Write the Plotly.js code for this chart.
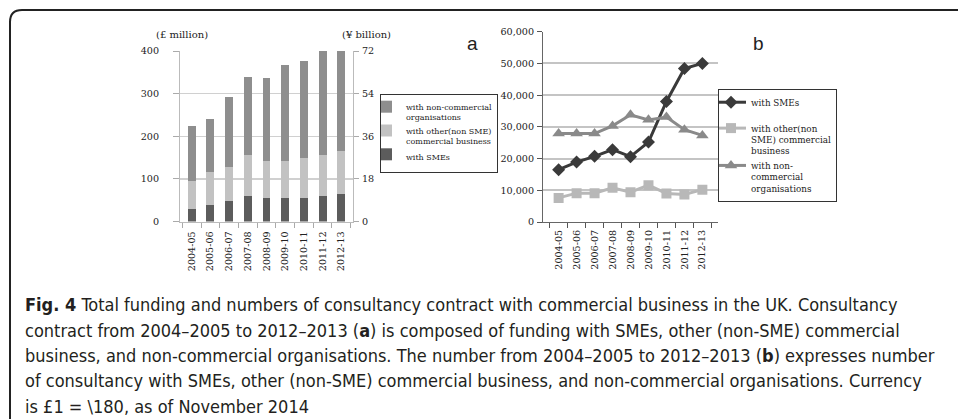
<!DOCTYPE html>
<html>
<head>
<meta charset="utf-8">
<script src="https://cdn.plot.ly/plotly-3.0.1.min.js"></script>
<style>html,body{margin:0;padding:0;background:#fff;}#chart{width:958px;height:419px;}</style>
</head>
<body>
<div id="chart"></div>
<script>
// ---- data ----
const years = ["2004-05","2005-06","2006-07","2007-08","2008-09","2009-10","2010-11","2011-12","2012-13"];
// (a) funding, £ million
const fundSME = [30, 39, 48, 59, 56, 56, 55, 61, 64];
const fundOther = [65, 77, 79, 97, 86, 87, 93, 94, 102];
const fundNonComm = [128, 124, 164, 183, 194, 225, 228, 247, 239];
// (b) number of consultancies
const numSME = [16500, 18900, 20700, 22800, 20600, 25200, 38000, 48400, 50000];
const numOther = [7600, 9100, 9100, 10800, 9400, 11600, 9000, 8700, 10200];
const numNonComm = [27900, 27900, 27900, 30300, 33800, 32200, 33100, 29100, 27300];
const leftTicks = [0, 100, 200, 300, 400];
const rightTicks = [0, 18, 36, 54, 72];
const yenPerPound = 180; // £1 = ¥180  -> £ million * 0.18 = ¥ billion

const W = 958, H = 419;
const px = v => v / W;
const py = v => 1 - v / H;
const serif = "DejaVu Serif, Liberation Serif, serif";
const capFont = "Liberation Sans Narrow, DejaVu Sans Condensed, Open Sans, sans-serif";

const fundTotalYen = years.map((_, i) => (fundSME[i] + fundOther[i] + fundNonComm[i]) * yenPerPound / 1000);

const traces = [
  {type:"bar", name:"with SMEs", x:years, y:fundSME, xaxis:"x", yaxis:"y",
   marker:{color:"#5c5c5c"}, legend:"legend", hoverinfo:"skip"},
  {type:"bar", name:"with other(non SME)<br>commercial business", x:years, y:fundOther, xaxis:"x", yaxis:"y",
   marker:{color:"#c2c2c2"}, legend:"legend", hoverinfo:"skip"},
  {type:"bar", name:"with non-commercial<br>organisations", x:years, y:fundNonComm, xaxis:"x", yaxis:"y",
   marker:{color:"#8e8e8e"}, legend:"legend", hoverinfo:"skip"},
  {type:"scatter", mode:"markers", x:years, y:fundTotalYen, xaxis:"x", yaxis:"y2",
   marker:{opacity:0, size:1}, showlegend:false, hoverinfo:"skip"},
  {type:"scatter", mode:"lines+markers", name:"with SMEs<br>&nbsp;", x:years, y:numSME, xaxis:"x2", yaxis:"y3",
   line:{color:"#3a3a3a", width:3}, marker:{symbol:"diamond", size:10, color:"#3a3a3a"}, legend:"legend2", hoverinfo:"skip"},
  {type:"scatter", mode:"lines+markers", name:"with other(non<br>SME) commercial<br>business", x:years, y:numOther, xaxis:"x2", yaxis:"y3",
   line:{color:"#b8b8b8", width:3}, marker:{symbol:"square", size:10, color:"#b8b8b8"}, legend:"legend2", hoverinfo:"skip"},
  {type:"scatter", mode:"lines+markers", name:"with non-<br>commercial<br>organisations", x:years, y:numNonComm, xaxis:"x2", yaxis:"y3",
   line:{color:"#8a8a8a", width:3}, marker:{symbol:"triangle-up", size:11, color:"#8a8a8a"}, legend:"legend2", hoverinfo:"skip"}
];

const capLines = [
  "<b>Fig. 4</b> Total funding and numbers of consultancy contract with commercial business in the UK. Consultancy",
  "contract from 2004–2005 to 2012–2013 (<b>a</b>) is composed of funding with SMEs, other (non-SME) commercial",
  "business, and non-commercial organisations. The number from 2004–2005 to 2012–2013 (<b>b</b>) expresses number",
  "of consultancy with SMEs, other (non-SME) commercial business, and non-commercial organisations. Currency",
  "is £1 = \\180, as of November 2014"
];
const capY = [304, 330, 355, 380, 406];

const annotations = capLines.map((t, i) => ({
  text:t, xref:"paper", yref:"paper", x:px(23), y:py(capY[i]), xanchor:"left", yanchor:"middle",
  showarrow:false, font:{family:capFont, size:18, color:"#231f20"}
}));
annotations.push(
  {text:"(£ million)", xref:"paper", yref:"paper", x:px(182), y:py(35), xanchor:"center", yanchor:"middle",
   showarrow:false, font:{family:serif, size:10, color:"#222"}},
  {text:"(¥ billion)", xref:"paper", yref:"paper", x:px(366), y:py(35), xanchor:"center", yanchor:"middle",
   showarrow:false, font:{family:serif, size:10, color:"#222"}},
  {text:"a", xref:"paper", yref:"paper", x:px(472), y:py(44), xanchor:"center", yanchor:"middle",
   showarrow:false, font:{family:"Liberation Sans, Arial, sans-serif", size:19, color:"#222"}},
  {text:"b", xref:"paper", yref:"paper", x:px(758), y:py(44), xanchor:"center", yanchor:"middle",
   showarrow:false, font:{family:"Liberation Sans, Arial, sans-serif", size:19, color:"#222"}}
);

const layout = {
  width:W, height:H, autosize:false,
  margin:{l:0, r:0, t:0, b:0, pad:0},
  paper_bgcolor:"#ffffff", plot_bgcolor:"rgba(0,0,0,0)",
  barmode:"stack", bargap:0.58,
  font:{family:serif, size:10, color:"#222"},
  xaxis:{domain:[px(180), px(353)], anchor:"y", type:"category", tickangle:-90,
    ticks:"outside", tickson:"boundaries", ticklen:5, tickcolor:"#aaa", ticklabelstandoff:5,
    showline:true, linecolor:"#bbb", linewidth:1, showgrid:false,
    tickfont:{family:serif, size:9.6, color:"#222"}},
  yaxis:{domain:[py(221.5), py(51)], anchor:"x", range:[0, 400], tickvals:leftTicks,
    ticks:"outside", ticklen:6, tickcolor:"#aaa", showline:true, linecolor:"#bbb", ticklabelstandoff:12,
    gridcolor:"#d0d0d0", gridwidth:1.5, zeroline:false,
    tickfont:{family:serif, size:9.6, color:"#222"}},
  yaxis2:{overlaying:"y", anchor:"x", side:"right", range:[0, 72], tickvals:rightTicks,
    ticks:"outside", ticklen:5, tickcolor:"#aaa", showline:true, linecolor:"#bbb", ticklabelstandoff:1,
    showgrid:false, zeroline:false,
    tickfont:{family:serif, size:9.6, color:"#222"}},
  xaxis2:{domain:[px(543), px(718)], anchor:"y3", type:"category", tickangle:-90,
    ticks:"outside", tickson:"boundaries", ticklen:5, tickcolor:"#555", ticklabelstandoff:3,
    showline:true, linecolor:"#666", linewidth:1, showgrid:false,
    tickfont:{family:serif, size:9.6, color:"#222"}},
  yaxis3:{domain:[py(222), py(31.7)], anchor:"x2", range:[0, 60000], dtick:10000, tickformat:",",
    ticks:"outside", ticklen:5, tickcolor:"#555", showline:true, linecolor:"#666", ticklabelstandoff:1,
    gridcolor:"#c4c4c4", gridwidth:2, zeroline:false,
    tickfont:{family:serif, size:9.6, color:"#222"}},
  legend:{x:px(380), y:py(94), xanchor:"left", yanchor:"top", traceorder:"reversed",
    bordercolor:"#333", borderwidth:1, bgcolor:"#fff", valign:"top", indentation:-15,
    font:{family:serif, size:8, color:"#222"}, itemwidth:30, tracegroupgap:4},
  legend2:{x:px(718), y:py(89), xanchor:"left", yanchor:"top", traceorder:"normal",
    bordercolor:"#333", borderwidth:1, bgcolor:"#fff", valign:"top", indentation:-8,
    font:{family:serif, size:8.8, color:"#222"}, itemwidth:30},
  annotations:annotations,
  shapes:[
    {type:"path", xref:"paper", yref:"paper",
     path:"M " + px(10) + "," + py(419) + " L " + px(10) + "," + py(22) +
          " Q " + px(10) + "," + py(10) + " " + px(22) + "," + py(10) +
          " L " + px(958) + "," + py(10),
     line:{color:"#222", width:2}}
  ]
};

Plotly.newPlot("chart", traces, layout, {staticPlot:true, displayModeBar:false});
</script>
</body>
</html>
